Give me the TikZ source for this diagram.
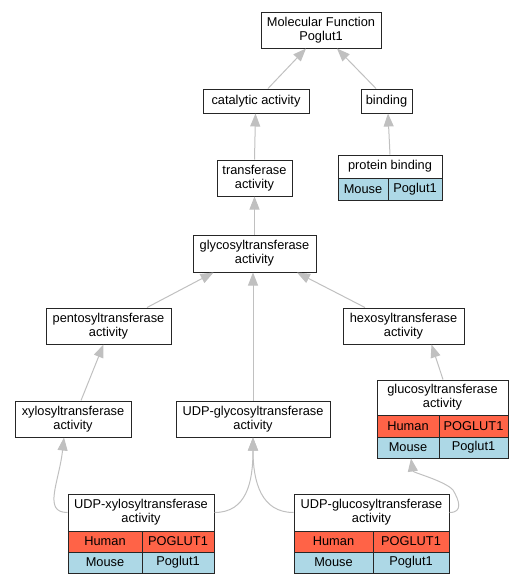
\documentclass[tikz,border=0pt]{standalone}
\usepackage{fontspec}
\setmainfont{Liberation Sans}
\usetikzlibrary{arrows.meta,calc}
\definecolor{humanc}{HTML}{FF6347}
\definecolor{mousec}{HTML}{ADD8E6}
\definecolor{edgec}{HTML}{C0C0C0}
\begin{document}
\begin{tikzpicture}[x=1pt,y=-1pt,
  box/.style={draw=black!85,line width=1pt,inner sep=0pt,align=center,fill=white,
    font=\fontsize{12.8}{14}\selectfont},
  human/.style={box,fill=humanc},
  mouse/.style={box,fill=mousec},
  edge/.style={draw=edgec,line width=1pt,-{Triangle[length=13pt,width=10pt,color=edgec]}}]
\useasboundingbox (0,0) rectangle (525,584);
% simple nodes
\node[box,minimum width=120pt,minimum height=36pt] (mf) at (321,30) {Molecular Function\\Poglut1};
\node[box,minimum width=106pt,minimum height=24pt] (cat) at (256,101) {catalytic activity};
\node[box,minimum width=51pt,minimum height=24pt] (bind) at (386.5,101) {binding};
\node[box,minimum width=75pt,minimum height=36pt] (trans) at (254.5,178) {transferase\\activity};
\node[box,minimum width=104pt,minimum height=23pt] (pbt) at (390,166.5) {protein binding};
\node[mouse,minimum width=50pt,minimum height=22pt] (pbm) at (363,189) {Mouse};
\node[mouse,minimum width=54pt,minimum height=22pt] (pbp) at (415,189) {Poglut1};
\node[box,minimum width=123pt,minimum height=37pt] (glyco) at (254.5,253.5) {glycosyltransferase\\activity};
\node[box,minimum width=125pt,minimum height=36pt] (pento) at (108.5,326) {pentosyltransferase\\activity};
\node[box,minimum width=121pt,minimum height=36pt] (hexo) at (403.5,326) {hexosyltransferase\\activity};
\node[box,minimum width=116pt,minimum height=36pt] (xylo) at (73,419) {xylosyltransferase\\activity};
\node[box,minimum width=154pt,minimum height=36pt] (udpg) at (253,419) {UDP-glycosyltransferase\\activity};
% glucosyltransferase table
\node[box,minimum width=131pt,minimum height=35pt] (glt) at (442.5,397.5) {glucosyltransferase\\activity};
\node[human,minimum width=62pt,minimum height=22pt] (glh) at (408,426) {Human};
\node[human,minimum width=69pt,minimum height=22pt] (glhg) at (473.5,426) {POGLUT1};
\node[mouse,minimum width=62pt,minimum height=21pt] (glm) at (408,447.5) {Mouse};
\node[mouse,minimum width=69pt,minimum height=21pt] (glmg) at (473.5,447.5) {Poglut1};
% UDP-xylosyltransferase table
\node[box,minimum width=146pt,minimum height=37pt] (uxt) at (141,512.5) {UDP-xylosyltransferase\\activity};
\node[human,minimum width=74pt,minimum height=21pt] (uxh) at (105,541.5) {Human};
\node[human,minimum width=72pt,minimum height=21pt] (uxhg) at (178,541.5) {POGLUT1};
\node[mouse,minimum width=74pt,minimum height=21pt] (uxm) at (105,562.5) {Mouse};
\node[mouse,minimum width=72pt,minimum height=21pt] (uxmg) at (178,562.5) {Poglut1};
% UDP-glucosyltransferase table
\node[box,minimum width=155pt,minimum height=37pt] (ugt) at (371.5,512.5) {UDP-glucosyltransferase\\activity};
\node[human,minimum width=79pt,minimum height=21pt] (ugh) at (333.5,541.5) {Human};
\node[human,minimum width=76pt,minimum height=21pt] (ughg) at (411,541.5) {POGLUT1};
\node[mouse,minimum width=79pt,minimum height=21pt] (ugm) at (333.5,562.5) {Mouse};
\node[mouse,minimum width=76pt,minimum height=21pt] (ugmg) at (411,562.5) {Poglut1};
% edges
\draw[edge] ($(cat.north)+(12,0)$) -- ($(mf.south)+(-15,0)$);
\draw[edge] ($(bind.north)+(-10.5,0)$) -- ($(mf.south)+(16,0)$);
\draw[edge] ($(trans.north)+(0,0)$) -- ($(cat.south)+(-0.5,0)$);
\draw[edge] (pbt.north) -- ($(bind.south)+(1.5,0)$);
\draw[edge] (glyco.north) -- (trans.south);
\draw[edge] ($(pento.north)+(38.5,0)$) -- ($(glyco.south)+(-41,0)$);
\draw[edge] ($(hexo.north)+(-38.5,0)$) -- ($(glyco.south)+(42.5,0)$);
\draw[edge] (udpg.north) -- ($(glyco.south)+(-1.5,0)$);
\draw[edge] ($(xylo.north)+(8,0)$) -- ($(pento.south)+(-5,0)$);
\draw[edge] ($(glt.north)+(0.5,0)$) -- ($(hexo.south)+(28,0)$);
\draw[edge] (uxt.west) .. controls +(-25,0) and +(-5,45) .. ($(xylo.south)+(-9,0)$);
\draw[edge] (uxt.east) .. controls +(32,0) and +(0,45) .. (udpg.south);
\draw[edge] (ugt.west) .. controls +(-32,0) and +(0,45) .. (udpg.south);
\draw[edge] (ugt.east) .. controls +(14,0) and +(6,10) .. (453,490)
  .. controls +(-8,-9) and +(2,14) .. ($(glm.south)+(3,0)$);
\end{tikzpicture}
\end{document}
